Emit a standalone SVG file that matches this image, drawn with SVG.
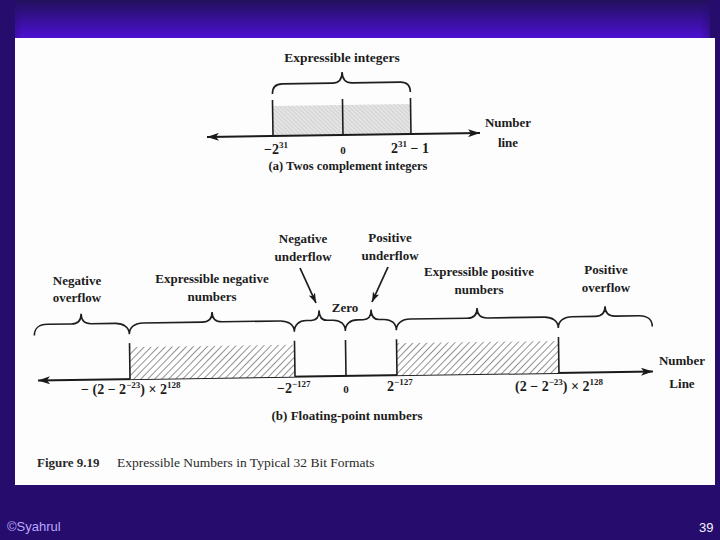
<svg xmlns="http://www.w3.org/2000/svg" width="720" height="540" viewBox="0 0 720 540">
<defs>
<style>
.lbl{font-family:"Liberation Serif","Times New Roman",serif;font-size:13px;font-weight:bold;fill:#1c1c1c;text-anchor:middle}
.num{font-family:"Liberation Serif","Times New Roman",serif;font-size:14px;font-weight:bold;fill:#1c1c1c}
.ln{fill:none;stroke:#1e1e1e;stroke-width:1.6}
.ax{fill:none;stroke:#1a1a1a;stroke-width:2}
.cap{font-family:"Liberation Serif","Times New Roman",serif;font-size:13.5px;fill:#2a2a2a}
.foot{font-family:"Liberation Sans",Arial,sans-serif;font-size:13px}
</style>
<linearGradient id="topg" x1="0" y1="0" x2="0" y2="1">
<stop offset="0" stop-color="#22105c"/>
<stop offset="1" stop-color="#4c10d2"/>
</linearGradient>
<linearGradient id="sideg" x1="0" y1="0" x2="1" y2="0">
<stop offset="0" stop-color="#260c6c" stop-opacity="1"/>
<stop offset="1" stop-color="#260c6c" stop-opacity="0"/>
</linearGradient>
<pattern id="hatchA" width="3" height="3" patternUnits="userSpaceOnUse" patternTransform="rotate(-45)">
<rect width="3" height="3" fill="#e4e4e4"/>
<line x1="0" y1="0" x2="0" y2="3" stroke="#bdbdbd" stroke-width="0.9"/>
</pattern>
<pattern id="hatchB" width="5" height="5" patternUnits="userSpaceOnUse" patternTransform="rotate(45)">
<rect width="5" height="5" fill="#ffffff"/>
<line x1="0" y1="0" x2="0" y2="5" stroke="#262626" stroke-width="1"/>
</pattern>
<marker id="ah" viewBox="0 0 12 8" refX="12" refY="4" markerWidth="12" markerHeight="8" markerUnits="userSpaceOnUse" orient="auto-start-reverse">
<path d="M0,0 L12,4 L0,8 L3,4 z" fill="#1a1a1a"/>
</marker>
<marker id="ahs" viewBox="0 0 10 7" refX="10" refY="3.5" markerWidth="10" markerHeight="7" markerUnits="userSpaceOnUse" orient="auto">
<path d="M0,0 L10,3.5 L0,7 L2.5,3.5 z" fill="#1a1a1a"/>
</marker>
</defs>

<!-- slide background -->
<rect x="0" y="0" width="720" height="540" fill="#260c6c"/>
<rect x="12" y="0" width="698" height="38" fill="url(#topg)"/>
<rect x="0" y="0" width="22" height="38" fill="url(#sideg)"/>
<rect x="0" y="0" width="15" height="540" fill="#260c6c"/>
<rect x="700" y="0" width="20" height="38" fill="url(#sideg)" transform="rotate(180 710 19)"/>
<rect x="715" y="0" width="5" height="540" fill="#260c6c"/>

<!-- scanned page -->
<rect id="page" x="15" y="38" width="700" height="447" fill="#fdfdfd"/>

<!-- (a) two's complement -->
<g id="partA-shapes" transform="rotate(-0.84 343 135)">
<rect x="273" y="105" width="138" height="30" fill="url(#hatchA)"/>
<path class="ln" d="M273,99V135 M343,99V135 M411,99V135"/>
<path class="ln" d="M273,93 C273,86 276,83 283,83 L333,83 C339,83 343,80 343,72 C343,80 347,83 353,83 L401,83 C408,83 411,86 411,93"/>
</g>
<g id="connectors">
<line class="ax" x1="207" y1="137" x2="480" y2="133" marker-start="url(#ah)" marker-end="url(#ah)"/>
<g transform="rotate(-0.83 346 376)">
<line class="ax" x1="38" y1="376" x2="653" y2="376" marker-start="url(#ah)" marker-end="url(#ah)"/>
</g>
<line class="ln" x1="300" y1="268" x2="316" y2="303" marker-end="url(#ahs)" style="stroke-width:1.8"/>
<line class="ln" x1="388" y1="267" x2="372" y2="302" marker-end="url(#ahs)" style="stroke-width:1.8"/>
</g>

<g id="expressible-integers">
<text class="lbl" x="342" y="62" style="font-size:13.5px">Expressible integers</text>
</g>
<g id="number-line-a">
<text class="lbl" x="508" y="127">Number</text>
<text class="lbl" x="508" y="147">line</text>
</g>
<g id="ticks-a">
<text class="num" x="276" y="154" text-anchor="middle">−2<tspan dy="-6" font-size="9">31</tspan></text>
<text class="num" x="343" y="154" text-anchor="middle" style="font-size:11px">0</text>
<text class="num" x="410" y="153" text-anchor="middle">2<tspan dy="-6" font-size="9">31</tspan><tspan dy="6"> − 1</tspan></text>
</g>
<g id="caption-a">
<text class="lbl" x="348" y="170" style="font-size:12.5px">(a) Twos complement integers</text>
</g>

<!-- (b) floating point -->
<g id="partB-shapes" transform="rotate(-0.83 346 376)">
<rect x="130" y="344" width="165" height="32" fill="url(#hatchB)"/>
<rect x="397" y="344" width="162" height="32" fill="url(#hatchB)"/>
<path class="ln" d="M130,340V376 M295,340V376 M346,340V376 M397,340V376 M559,340V376"/>
<path class="ln" d="M35,331 C35,324 40,320 48,320 L72,320 C78,320 82,317 82,310 C82,317 86,320 92,320 L116,320 C124,320 130,324 130,331
C130,324 136,320 144,320 L203,320 C209,320 213,317 213,310 C213,317 217,320 223,320 L281,320 C289,320 295,324 295,331
C295,324 300,320 307,320 L312,320 C317,320 320,317 320,310 C320,317 323,320 328,320 L334,320 C341,320 346,324 346,331
C346,324 351,320 358,320 L364,320 C369,320 372,317 372,310 C372,317 375,320 380,320 L385,320 C392,320 397,324 397,331
C397,324 403,320 411,320 L468,320 C474,320 478,317 478,310 C478,317 482,320 488,320 L545,320 C553,320 559,324 559,331
C559,324 565,320 573,320 L596,320 C602,320 606,317 606,310 C606,317 610,320 616,320 L640,320 C648,320 653,324 653,331"/>
</g>

<g id="negative-overflow">
<text class="lbl" x="77" y="285">Negative</text>
<text class="lbl" x="77" y="302">overflow</text>
</g>
<g id="expressible-negative">
<text class="lbl" x="212" y="283">Expressible negative</text>
<text class="lbl" x="212" y="301">numbers</text>
</g>
<g id="negative-underflow">
<text class="lbl" x="303" y="243">Negative</text>
<text class="lbl" x="303" y="261">underflow</text>
</g>
<g id="zero">
<text class="lbl" x="345" y="312">Zero</text>
</g>
<g id="positive-underflow">
<text class="lbl" x="390" y="242">Positive</text>
<text class="lbl" x="390" y="260">underflow</text>
</g>
<g id="expressible-positive">
<text class="lbl" x="479" y="276">Expressible positive</text>
<text class="lbl" x="479" y="294">numbers</text>
</g>
<g id="positive-overflow">
<text class="lbl" x="606" y="274">Positive</text>
<text class="lbl" x="606" y="292">overflow</text>
</g>
<g id="number-line-b">
<text class="lbl" x="682" y="365">Number</text>
<text class="lbl" x="682" y="388">Line</text>
</g>
<g id="ticks-b">
<text class="num" x="81" y="394">− (2 − 2<tspan dy="-6" font-size="9">−23</tspan><tspan dy="6">) × 2</tspan><tspan dy="-6" font-size="9">128</tspan></text>
<text class="num" x="277" y="393">−2<tspan dy="-6" font-size="9">−127</tspan></text>
<text class="num" x="346" y="393" text-anchor="middle" style="font-size:11px">0</text>
<text class="num" x="387" y="391">2<tspan dy="-6" font-size="9">−127</tspan></text>
<text class="num" x="515" y="391">(2 − 2<tspan dy="-6" font-size="9">−23</tspan><tspan dy="6">) × 2</tspan><tspan dy="-6" font-size="9">128</tspan></text>
</g>
<g id="caption-b">
<text class="lbl" x="347" y="420">(b) Floating-point numbers</text>
</g>

<g id="figure-caption">
<text class="cap" x="37" y="467"><tspan font-weight="bold" font-size="13">Figure 9.19</tspan><tspan x="117">Expressible Numbers in Typical 32 Bit Formats</tspan></text>
</g>

<g id="footer">
<text class="foot" x="7" y="531" fill="#b9a8ff">©Syahrul</text>
<text class="foot" x="699" y="532" fill="#f2f2ff">39</text>
</g>
</svg>
